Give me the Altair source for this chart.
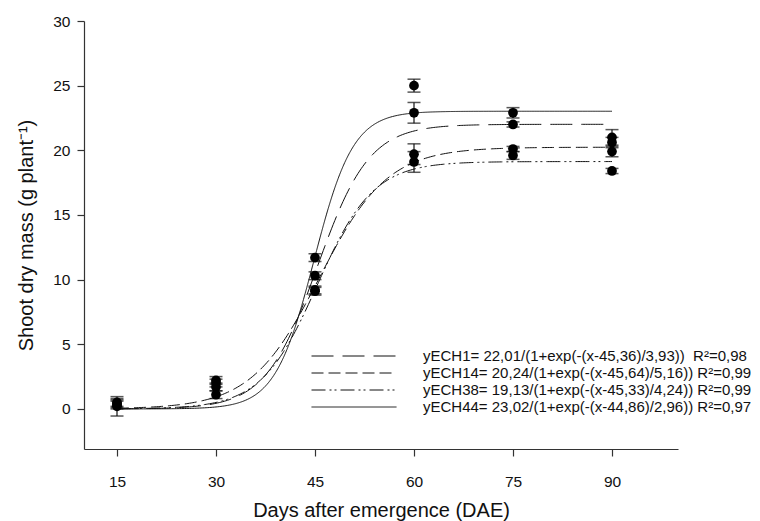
import altair as alt
import pandas as pd
import numpy as np

days = [15, 30, 45, 60, 75, 90]
series = ["ECH1", "ECH14", "ECH38", "ECH44"]

mean_ech1 = [0.3, 2.2, 10.3, 25.0, 22.0, 21.0]
mean_ech14 = [0.5, 1.7, 9.2, 19.7, 20.1, 20.6]
mean_ech38 = [0.2, 2.0, 9.1, 19.1, 19.6, 18.4]
mean_ech44 = [0.4, 1.1, 11.7, 22.9, 22.9, 19.9]

err_ech1 = [0.3, 0.3, 0.3, 0.5, 0.2, 0.6]
err_ech14 = [0.3, 0.3, 0.3, 0.8, 0.2, 0.4]
err_ech38 = [0.75, 0.3, 0.3, 0.8, 0.3, 0.2]
err_ech44 = [0.3, 0.3, 0.3, 0.8, 0.4, 0.4]

a_vals = [22.01, 20.24, 19.13, 23.02]
x0_vals = [45.36, 45.64, 45.33, 44.86]
b_vals = [3.93, 5.16, 4.24, 2.96]

labels = [
    "yECH1= 22,01/(1+exp(-(x-45,36)/3,93))\u00a0\u00a0R²=0,98",
    "yECH14= 20,24/(1+exp(-(x-45,64)/5,16)) R²=0,99",
    "yECH38= 19,13/(1+exp(-(x-45,33)/4,24)) R²=0,99",
    "yECH44= 23,02/(1+exp(-(x-44,86)/2,96)) R²=0,97",
]
dashes = [[22, 9], [12, 5], [14, 4, 2, 3, 2, 4], [1, 0]]

y_ticks = [0, 5, 10, 15, 20, 25, 30]

means = [mean_ech1, mean_ech14, mean_ech38, mean_ech44]
errs = [err_ech1, err_ech14, err_ech38, err_ech44]

pts = []
for s, lab, m, e in zip(series, labels, means, errs):
    for d, v, er in zip(days, m, e):
        pts.append({"series": s, "label": lab, "day": d, "mean": v,
                    "lo": v - er, "hi": v + er})
pts_df = pd.DataFrame(pts)

xs = np.arange(15, 90.001, 0.25)
curve = []
for s, lab, a, x0, b in zip(series, labels, a_vals, x0_vals, b_vals):
    ys = a / (1 + np.exp(-(xs - x0) / b))
    for xv, yv in zip(xs, ys):
        curve.append({"series": s, "label": lab, "x": float(xv), "y": float(yv)})
curve_df = pd.DataFrame(curve)

FONT = "Liberation Sans"
xscale = alt.Scale(domain=[10, 100], nice=False, zero=False)
yscale = alt.Scale(domain=[-3.1, 30], nice=False, zero=False)

xax = alt.Axis(values=days, title="Days after emergence (DAE)", labelPadding=18,
               titlePadding=11)
yax = alt.Axis(values=y_ticks, title="Shoot dry mass (g plant⁻¹)", labelPadding=7,
               titlePadding=16)

curves = alt.Chart(curve_df).mark_line(color="#111111", strokeWidth=1).encode(
    x=alt.X("x:Q", scale=xscale, axis=xax),
    y=alt.Y("y:Q", scale=yscale, axis=yax),
    strokeDash=alt.StrokeDash(
        "label:N", sort=labels,
        scale=alt.Scale(domain=labels, range=dashes),
        legend=alt.Legend(
            orient="none", legendX=261, legendY=326, title=None,
            symbolType="M-5,0H5", symbolSize=289, symbolStrokeWidth=1,
            symbolStrokeColor="#111111", symbolFillColor="transparent",
            labelFont=FONT, labelFontSize=15, labelColor="#111111",
            labelLimit=600, labelOffset=60, rowPadding=-1.2, padding=0,
        ),
    ),
)

rules = alt.Chart(pts_df).mark_rule(color="#111111", strokeWidth=1.2).encode(
    x=alt.X("day:Q", scale=xscale),
    y=alt.Y("lo:Q", scale=yscale),
    y2="hi:Q",
)
caps_lo = alt.Chart(pts_df).mark_tick(color="#111111", orient="horizontal",
                                      size=13, thickness=1.5).encode(
    x=alt.X("day:Q", scale=xscale),
    y=alt.Y("lo:Q", scale=yscale),
)
caps_hi = alt.Chart(pts_df).mark_tick(color="#111111", orient="horizontal",
                                      size=13, thickness=1.5).encode(
    x=alt.X("day:Q", scale=xscale),
    y=alt.Y("hi:Q", scale=yscale),
)
points = alt.Chart(pts_df).mark_circle(color="#000000", size=95, opacity=1).encode(
    x=alt.X("day:Q", scale=xscale),
    y=alt.Y("mean:Q", scale=yscale),
)

chart = alt.layer(curves, rules, caps_lo, caps_hi, points).properties(
    width=594, height=428,
    autosize=alt.AutoSizeParams(type="none"),
    padding={"left": 76, "top": 13, "right": 74, "bottom": 72},
    background="white",
).configure_view(stroke=None).configure_axis(
    grid=False, domainColor="#333333", tickColor="#333333", tickSize=7,
    domainWidth=1.2, tickWidth=1.2,
    labelFont=FONT, labelFontSize=15.5, labelColor="#111111",
    titleFont=FONT, titleFontSize=20, titleFontWeight="normal", titleColor="#111111",
)

chart.save("out.html", embed_options={"renderer": "svg", "actions": False})
